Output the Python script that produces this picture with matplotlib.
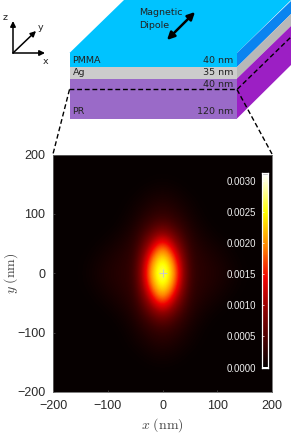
import numpy as np
import matplotlib
matplotlib.use('Agg')
import matplotlib.pyplot as plt
from matplotlib.colors import LinearSegmentedColormap
from matplotlib.patches import Polygon

# field, one quadrant (x, y = 0, 25, ... 200 nm), mirrored below
quad_step = 25
field_quad = np.array([
    [3.10, 2.00, 0.36, 0.22, 0.17, 0.10, 0.03, 0.00, 0.00],
    [2.75, 1.65, 0.33, 0.20, 0.14, 0.07, 0.02, 0.00, 0.00],
    [1.95, 1.00, 0.27, 0.15, 0.08, 0.03, 0.00, 0.00, 0.00],
    [0.85, 0.50, 0.19, 0.08, 0.02, 0.00, 0.00, 0.00, 0.00],
    [0.34, 0.24, 0.11, 0.03, 0.00, 0.00, 0.00, 0.00, 0.00],
    [0.18, 0.13, 0.06, 0.01, 0.00, 0.00, 0.00, 0.00, 0.00],
    [0.07, 0.05, 0.01, 0.00, 0.00, 0.00, 0.00, 0.00, 0.00],
    [0.01, 0.00, 0.00, 0.00, 0.00, 0.00, 0.00, 0.00, 0.00],
    [0.00, 0.00, 0.00, 0.00, 0.00, 0.00, 0.00, 0.00, 0.00],
]) * 1e-3
axis_ticks = [-200, -100, 0, 100, 200]
cbar_ticks = [0.0, 0.0005, 0.001, 0.0015, 0.002, 0.0025, 0.003]
vmax = 0.00310
cbar_top = 0.00313

layers = ['PMMA', 'Ag', '', 'PR']
thickness = ['40 nm', '35 nm', '40 nm', '120 nm']

W, H = 300, 433
cmap = LinearSegmentedColormap.from_list('fire', [
    (0.0, '#060000'), (0.06, '#240000'), (0.3, '#900000'), (0.46, '#f00000'),
    (0.62, '#ff8000'), (0.8, '#ffff00'), (0.92, '#ffffa0'), (1.0, '#ffffff')])
cmap.set_over('#1a1a1a')

plt.rcParams['font.family'] = ['Liberation Sans', 'DejaVu Sans']
plt.rcParams['mathtext.fontset'] = 'cm'
fig = plt.figure(figsize=(W / 100, H / 100), dpi=100)


def px_axes(l, t, r, b, **kw):
    return fig.add_axes([l / W, 1 - b / H, (r - l) / W, (b - t) / H], **kw)


# heat map
ax = px_axes(53, 154.5, 272, 392)
top = np.hstack([field_quad[:, :0:-1], field_quad])
field = np.vstack([top[:0:-1], top])
ext = quad_step * (field_quad.shape[0] - 1)
ax.imshow(field, cmap=cmap, vmin=0, vmax=vmax, origin='lower', aspect='auto',
          extent=[-ext, ext, -ext, ext], interpolation='bicubic')
ax.plot(0, 0, '+', color='#c8c8c8', ms=6, mew=0.7)
ax.set_xlim(-200, 200)
ax.set_ylim(-200, 200)
ax.set_xticks(axis_ticks)
ax.set_yticks(axis_ticks)
ax.tick_params(labelsize=9, labelcolor='#2a2a2a', length=1.5, width=0.5, direction='in',
               color='#555555')
ax.tick_params(axis='x', pad=6)
ax.tick_params(axis='y', pad=5.5)
ax.set_xlabel(r'$x\ \mathrm{(nm)}$', fontsize=10, color='#444444')
ax.set_ylabel(r'$y\ \mathrm{(nm)}$', fontsize=10, color='#444444')
ax.xaxis.set_label_coords(0.5, -0.1)
ax.yaxis.set_label_coords(-0.15, 0.5)
for s in ax.spines.values():
    s.set_color('#666666')
    s.set_linewidth(0.6)

# colour bar inside the map
cax = px_axes(262, 172.5, 268, 367.5)
grad = np.linspace(0, cbar_top, 256).reshape(-1, 1)
cax.imshow(grad, cmap=cmap, vmin=0, vmax=vmax, origin='lower', aspect='auto',
           extent=[0, 1, 0, cbar_top])
cax.set_xticks([])
cax.set_yticks(cbar_ticks)
cax.set_yticklabels(['%.4f' % t for t in cbar_ticks])
cax.tick_params(axis='y', left=True, labelleft=True, labelsize=6.9, labelcolor='#f0f0f0',
                color='white', length=1.5, width=0.5, direction='in', pad=4.5)
for s in cax.spines.values():
    s.set_color('white')
    s.set_linewidth(0.9)

# schematic on top, pixel coordinates
sch = fig.add_axes([0, 0, 1, 1], zorder=5)
sch.set_xlim(0, W)
sch.set_ylim(H, 0)
sch.axis('off')
sch.patch.set_alpha(0)


def poly(pts, c):
    sch.add_patch(Polygon(pts, closed=True, fc=c, ec='none'))


poly([(69.5, 53), (124, 0), (291, 0), (237, 53)], '#00c3ff')
poly([(69.5, 53), (237, 53), (237, 67), (69.5, 67)], '#00c3ff')
poly([(69.5, 67), (237, 67), (237, 78.5), (69.5, 78.5)], '#cccccc')
poly([(69.5, 78.5), (237, 78.5), (237, 118.5), (69.5, 118.5)], '#9a6ac8')
poly([(237, 53), (291, 1), (291, 14), (237, 67)], '#0a84f0')
poly([(237, 67), (291, 14), (291, 26), (237, 78.5)], '#b8b8b8')
poly([(237, 78.5), (291, 26), (291, 65), (237, 118.5)], '#9c1fc4')

tc = '#222222'
for name, th, yy in zip(layers, thickness, [60.5, 72.5, 84.5, 111.5]):
    sch.text(72.5, yy, name, fontsize=6.8, color=tc, va='center', family='DejaVu Sans')
    sch.text(233.5, yy, th, fontsize=6.8, color=tc, va='center', ha='right', family='DejaVu Sans')
sch.text(139, 12.5, 'Magnetic', fontsize=6.8, color=tc, va='center', family='DejaVu Sans')
sch.text(139, 25, 'Dipole', fontsize=6.8, color=tc, va='center', family='DejaVu Sans')

dash = dict(color='black', lw=1.0, ls=(0, (3.5, 2)))
sch.plot([69.5, 237, 291.5], [89.5, 89.5, 36.5], **dash)
sch.plot([69.5, 53], [89.5, 154], **dash)
sch.plot([237, 272], [89.5, 154], **dash)

sch.annotate('', xy=(195, 12), xytext=(167, 40),
             arrowprops=dict(arrowstyle='<|-|>', color='black', lw=1.8, mutation_scale=11, shrinkA=0, shrinkB=0))
for end in [(13, 21), (36, 31), (45, 53)]:
    sch.annotate('', xy=end, xytext=(13, 53),
                 arrowprops=dict(arrowstyle='-|>', color='black', lw=1.1, mutation_scale=8, shrinkA=0, shrinkB=0))
sch.text(5, 17, 'z', fontsize=6.8, ha='center', va='center', color=tc, family='DejaVu Sans')
sch.text(41, 28, 'y', fontsize=6.8, ha='center', va='center', color=tc, family='DejaVu Sans')
sch.text(46, 61, 'x', fontsize=6.8, ha='center', va='center', color=tc, family='DejaVu Sans')

fig.savefig('out.png', dpi=100)
